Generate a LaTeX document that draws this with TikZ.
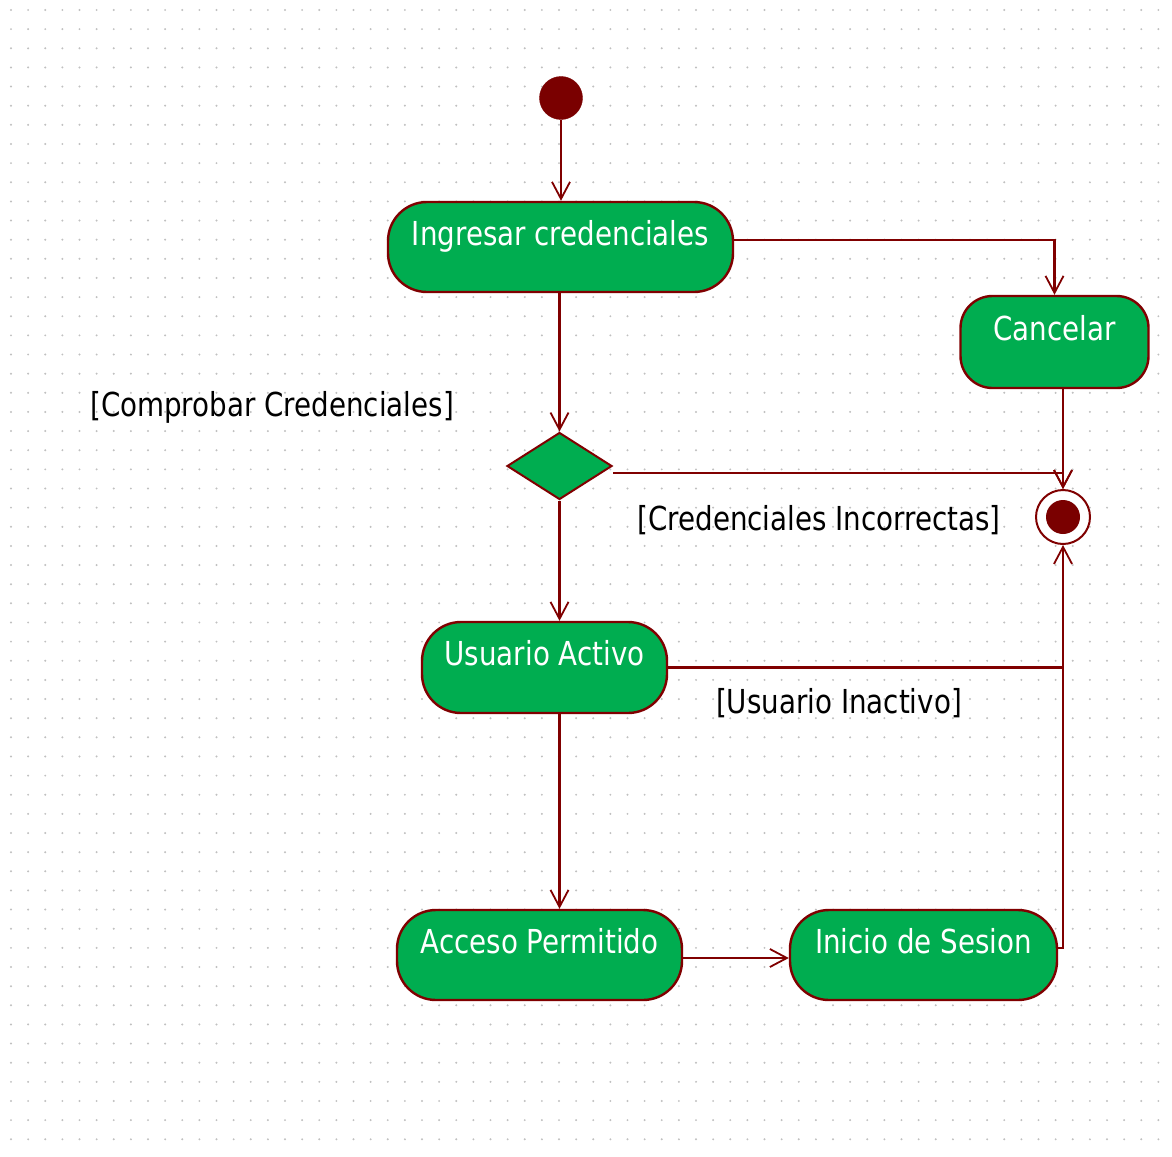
\documentclass[tikz,border=0pt]{standalone}
\usepackage{fontspec}
\setmainfont{DejaVu Sans}[FakeStretch=0.84]
\usetikzlibrary{shapes.geometric,arrows.meta}

\definecolor{umlgreen}{RGB}{0,173,80}
\definecolor{umlred}{RGB}{128,0,0}
\definecolor{umlfill}{RGB}{122,0,0}
\definecolor{gridgray}{RGB}{192,192,192}

\tikzset{
  activity/.style={draw=umlred, line width=2.4pt, fill=umlgreen, rounded corners=39pt,
    text=white, font=\fontsize{33}{40}\selectfont, inner sep=0pt,
    text height=24pt, text depth=28pt, align=center},
  decision/.style={draw=umlred, line width=2pt, fill=umlgreen, shape=diamond,
    inner sep=0pt, minimum width=105pt, minimum height=67pt},
  startnode/.style={circle, fill=umlfill, draw=umlfill, inner sep=0pt, minimum size=43pt},
  endnode/.style={circle, fill=white, draw=umlred, line width=2pt, inner sep=0pt, minimum size=54pt},
  guard/.style={text=black, font=\fontsize{33}{40}\selectfont, inner sep=0pt, anchor=base},
  flow/.style={draw=umlred, line width=2.3pt, -{Straight Barb[length=17pt,width=18pt,line width=1.8pt]}},
  plainflow/.style={draw=umlred, line width=2.3pt},
}

\begin{document}
\begin{tikzpicture}[x=1pt, y=-1pt]
  % canvas
  \useasboundingbox (0,0) rectangle (1172,1156);
  \fill[white] (0,0) rectangle (1172,1156);

  % dotted drawing grid
  \foreach \i in {0,...,67}{
    \foreach \j in {0,...,59}{
      \fill[gridgray] (11+\i*17.125, 10+\j*19.14) circle (1.1pt);
    }
  }

  % activity nodes
  \node[startnode] (init) at (561,98) {};
  \node[activity, minimum width=345pt, minimum height=90pt] (ing) at (560.5,247) {Ingresar credenciales};
  \node[activity, minimum width=188pt, minimum height=92pt, rounded corners=32pt] (canc) at (1054.5,342) {Cancelar};
  \node[decision] (dia) at (559.5,466) {};
  \node[endnode] (fin) at (1063,517) {};
  \fill[umlfill] (fin.center) circle (17pt);
  \node[activity, minimum width=245pt, minimum height=91pt] (ua) at (544.5,667.5) {Usuario Activo};
  \node[activity, minimum width=285pt, minimum height=90pt] (acc) at (539.5,955) {Acceso Permitido};
  \node[activity, minimum width=267pt, minimum height=90pt] (ini) at (923.5,955) {Inicio de Sesion};

  % guard labels
  \node[guard] (gcomp) at (272,416) {[Comprobar Credenciales]};
  \node[guard] (ginc) at (819,530) {[Credenciales Incorrectas]};
  \node[guard] (gina) at (839,713) {[Usuario Inactivo]};

  % junction points on the right-hand bus
  \coordinate (jdia) at ([yshift=-7pt]dia.east -| fin.north);
  \coordinate (jua) at (ua.east -| fin.south);
  \coordinate (jini) at ([yshift=7pt]ini.east -| fin.south);

  % control flows
  \draw[flow] (init) -- (init |- ing.north);
  \draw[flow] ([yshift=7pt]ing.east) -| (canc.north);
  \draw[flow] (ing.south -| dia.north) -- (dia.north);
  \draw[flow] (canc.south -| fin.north) -- (fin.north);
  \draw[flow] ([yshift=-7pt]dia.east) -- (jdia) -- (fin.north);
  \draw[flow] (dia.south) -- (dia.south |- ua.north);
  \draw[plainflow] (ua.east) -- (jua);
  \draw[flow] ([yshift=7pt]ini.east) -- (jini) -- (fin.south);
  \draw[flow] (ua.south -| dia.south) -- (dia.south |- acc.north);
  \draw[flow] ([yshift=-3pt]acc.east) -- ([yshift=-3pt]ini.west);
\end{tikzpicture}
\end{document}
